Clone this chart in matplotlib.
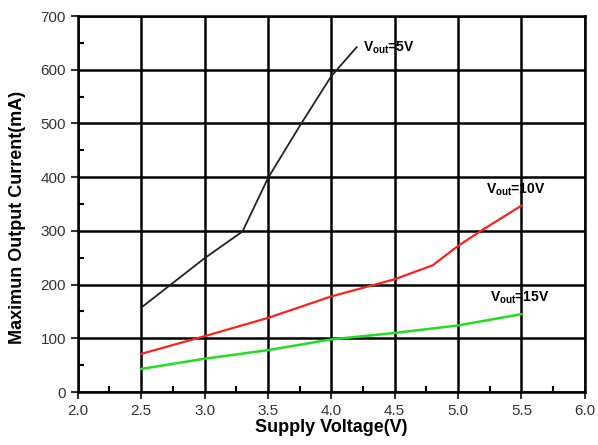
import numpy as np
import matplotlib.pyplot as plt
from matplotlib.ticker import MultipleLocator

plt.rcParams['font.family'] = ['Liberation Sans', 'DejaVu Sans']
plt.rcParams['mathtext.fontset'] = 'custom'
plt.rcParams['mathtext.rm'] = 'Liberation Sans:bold'

# supply voltage (V) and max output current (mA) per Vout
v_5 = [2.5, 3.0, 3.3, 3.5, 3.75, 4.0, 4.2]
i_5 = [157, 249, 299, 398, 495, 588, 642]
v_10 = [2.5, 3.0, 3.5, 4.0, 4.5, 4.8, 5.0, 5.2, 5.5]
i_10 = [71, 104, 138, 178, 210, 236, 272, 303, 347]
v_15 = [2.5, 3.0, 3.5, 4.0, 4.5, 5.0, 5.5]
i_15 = [43, 62, 78, 98, 110, 124, 145]

fig = plt.figure(figsize=(5.98, 4.45), dpi=100)
ax = fig.add_axes([0.130, 0.119, 0.848, 0.845])

ax.plot(v_5, i_5, color='#222222', lw=1.3)
ax.plot(v_10, i_10, color='#ff2020', lw=1.6)
ax.plot(v_15, i_15, color='#22dd22', lw=1.8)

ax.text(4.25, 640, r'V$_{\mathregular{out}}$=5V', fontsize=10, fontweight='bold', va='center')
ax.text(5.22, 376, r'V$_{\mathregular{out}}$=10V', fontsize=10, fontweight='bold', va='center')
ax.text(5.25, 175, r'V$_{\mathregular{out}}$=15V', fontsize=10, fontweight='bold', va='center')

ax.set_xlim(2.0, 6.0)
ax.set_ylim(0, 700)
ax.xaxis.set_major_locator(MultipleLocator(0.5))
ax.xaxis.set_minor_locator(MultipleLocator(0.25))
ax.yaxis.set_major_locator(MultipleLocator(100))
ax.yaxis.set_minor_locator(MultipleLocator(50))
ax.xaxis.set_major_formatter(plt.FormatStrFormatter('%.1f'))
ax.grid(which='major', color='black', lw=1.8)
ax.set_axisbelow(True)
for s in ax.spines.values():
    s.set_linewidth(1.8)
ax.tick_params(which='major', direction='out', length=5, width=1.5, labelsize=11, colors='#333333')
ax.tick_params(which='minor', direction='in', length=4, width=1.5)

ax.set_xlabel('Supply Voltage(V)', fontsize=13, fontweight='bold', labelpad=1)
ax.set_ylabel('Maximun Output Current(mA)', fontsize=13, fontweight='bold')
ax.yaxis.set_label_coords(-0.102, 0.465)

plt.savefig('out.png')
